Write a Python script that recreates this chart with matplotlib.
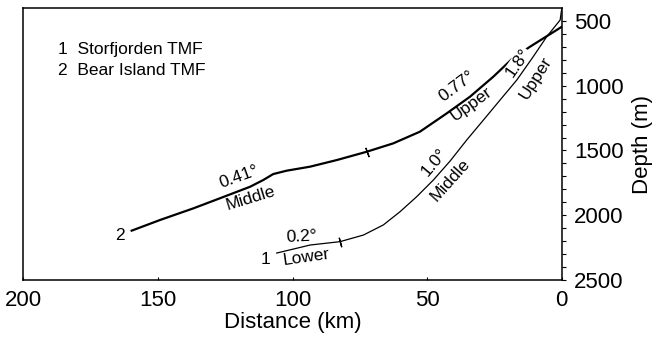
import matplotlib
matplotlib.use("Agg")
import matplotlib.pyplot as plt

plt.rcParams['font.family'] = ['Liberation Sans', 'DejaVu Sans']

# Bear Island TMF (curve 2), distance km / depth m
bear_km = [159.8, 149.3, 136.9, 127.0, 115.8, 110.9, 107.2, 102.2, 93.5, 83.6,
           72.5, 62.6, 52.7, 42.7, 34.1, 25.4, 18.6, 11.8, 1.9, 0.0]
bear_depth = [2119, 2037, 1947, 1869, 1780, 1728, 1682, 1656, 1625, 1574,
              1510, 1445, 1355, 1213, 1085, 930, 796, 699, 570, 545]

# Storfjorden TMF (curve 1)
stor_km = [105.9, 93.5, 82.4, 73.7, 66.3, 60.1, 53.9, 47.7, 41.5, 35.3,
           29.1, 22.9, 16.7, 10.6, 5.6, 0.6, 0.0]
stor_depth = [2292, 2230, 2204, 2153, 2075, 1973, 1857, 1728, 1582, 1419,
              1265, 1110, 956, 776, 622, 493, 405]

# segment boundaries (small cross ticks)
bear_tick = (72.5, 1510)
stor_tick = (82.4, 2204)

# slope labels: text, km, depth, rotation
labels = [
    ("0.41°", 119.9, 1705, 20),
    ("Middle", 115.4, 1865, 17),
    ("0.2°", 96.8, 2168, 3),
    ("Lower", 95.0, 2325, 8),
    ("0.77°", 39.0, 1003, 37),
    ("Upper", 33.7, 1140, 36),
    ("1.0°", 47.5, 1590, 50),
    ("Middle", 41.5, 1728, 48),
    ("Upper", 9.6, 940, 58),
    ("1", 109.9, 2338, 0),
    ("2", 164.1, 2160, 0),
]
gap_label = ("1.8°", 16.2, 825, 55)

fig = plt.figure(figsize=(6.56, 3.38), dpi=100)
ax = fig.add_axes([0.0358, 0.1716, 0.8205, 0.8047])

ax.plot(bear_km, bear_depth, color='black', lw=1.6, zorder=2)
ax.plot(stor_km, stor_depth, color='black', lw=0.9, zorder=4)
ax.plot(*bear_tick, marker=(2, 2, 20), color='black', ms=7, mew=0.9, zorder=4)
ax.plot(*stor_tick, marker=(2, 2, 15), color='black', ms=7, mew=0.9, zorder=4)

for txt, x, y, rot in labels:
    ax.text(x, y, txt, fontsize=12.5, rotation=rot, rotation_mode='anchor',
            ha='center', va='center')

# the 1.8 label interrupts the thick line in the original
t, x, y, rot = gap_label
ax.text(x, y, t, fontsize=12.5, rotation=rot, rotation_mode='anchor',
        ha='center', va='center', zorder=3,
        bbox=dict(facecolor='white', edgecolor='none', pad=0.5))

ax.text(0.064, 0.849, "1  Storfjorden TMF", transform=ax.transAxes,
        fontsize=12.5, va='center', ha='left')
ax.text(0.064, 0.772, "2  Bear Island TMF", transform=ax.transAxes,
        fontsize=12.5, va='center', ha='left')

ax.set_xlim(200, 0)
ax.set_ylim(2500, 400)
ax.set_xticks([200, 150, 100, 50, 0])
ax.set_yticks([500, 1000, 1500, 2000, 2500])
ax.set_yticks(range(500, 2500, 100), minor=True)

ax.yaxis.tick_right()
ax.yaxis.set_label_position('right')
ax.tick_params(axis='y', which='both', direction='out', length=3, width=0.8,
               labelsize=16, pad=6)
ax.tick_params(axis='x', direction='in', length=2, width=0.8, labelsize=16, pad=7)
ax.set_xlabel("Distance (km)", fontsize=16, labelpad=1)
ax.set_ylabel("Depth (m)", fontsize=16, labelpad=6)

for s in ax.spines.values():
    s.set_linewidth(1.1)

fig.savefig("out.png", dpi=100)
